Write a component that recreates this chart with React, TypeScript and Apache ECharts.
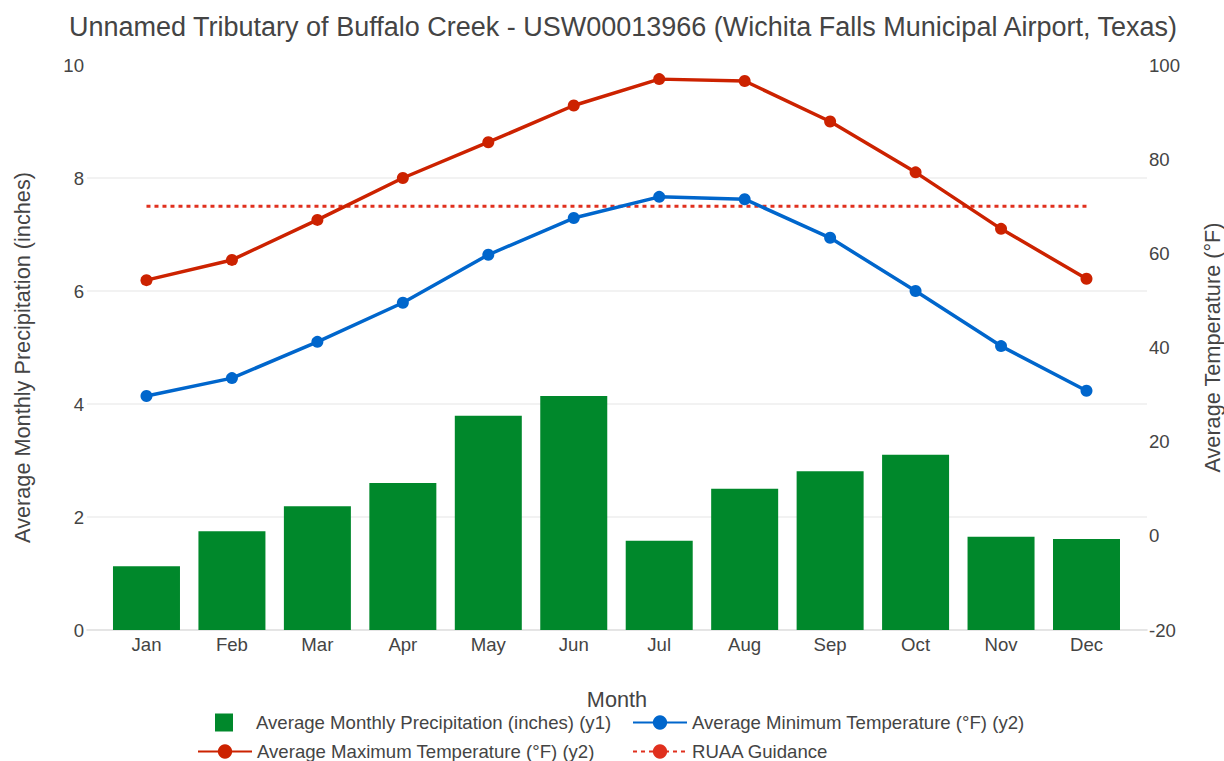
import React, { useEffect, useRef } from "react";
import * as echarts from "echarts";

const months = ["Jan", "Feb", "Mar", "Apr", "May", "Jun", "Jul", "Aug", "Sep", "Oct", "Nov", "Dec"];
const precipitation = [1.13, 1.75, 2.19, 2.6, 3.79, 4.14, 1.58, 2.5, 2.81, 3.1, 1.65, 1.61];
const maxTemp = [54.3, 58.6, 67.1, 76.0, 83.6, 91.4, 97.0, 96.6, 88.0, 77.2, 65.2, 54.6];
const minTemp = [29.7, 33.5, 41.2, 49.5, 59.7, 67.5, 72.0, 71.5, 63.3, 52.0, 40.3, 30.8];
const ruaa = [70, 70, 70, 70, 70, 70, 70, 70, 70, 70, 70, 70];
const leftTicks = [0, 2, 4, 6, 8, 10];
const rightTicks = [-20, 0, 20, 40, 60, 80, 100];

const FONT = "'Liberation Sans', Arial, sans-serif";
const TXT = "#444";
const GREEN = "#00882B";
const RED = "#CC2200";
const BLUE = "#0066CC";
const DOT = "#E0301E";

const NAMES = {
  precip: "Average Monthly Precipitation (inches) (y1)",
  min: "Average Minimum Temperature (°F) (y2)",
  max: "Average Maximum Temperature (°F) (y2)",
  ruaa: "RUAA Guidance",
};

export default function App() {
  const ref = useRef<HTMLDivElement>(null);
  useEffect(() => {
    if (!ref.current) return;
    const chart = echarts.init(ref.current, null, { renderer: "svg" });
    const idx = months.map((_, i) => i);
    const legendBase = {
      orient: "horizontal" as const,
      itemWidth: 54,
      itemHeight: 18,
      textStyle: { fontFamily: FONT, fontSize: 18.6, color: TXT },
      selectedMode: false as const,
    };
    chart.setOption({
      animation: false,
      backgroundColor: "#fff",
      title: {
        text: "Unnamed Tributary of Buffalo Creek - USW00013966 (Wichita Falls Municipal Airport, Texas)",
        left: 64,
        top: 8,
        textStyle: { fontFamily: FONT, fontSize: 27, fontWeight: "normal", color: TXT },
      },
      grid: { left: 87, right: 77, top: 65, bottom: 131, containLabel: false, outerBoundsMode: "none" },
      legend: [
        {
          ...legendBase,
          left: 210,
          top: 708,
          itemWidth: 18,
          icon: "rect",
          textStyle: { ...legendBase.textStyle, padding: [0, 0, 0, 18] },
          data: [NAMES.precip],
        },
        { ...legendBase, left: 627, top: 708, data: [NAMES.min] },
        { ...legendBase, left: 192, top: 737, data: [NAMES.max] },
        { ...legendBase, left: 627, top: 737, data: [NAMES.ruaa] },
      ],
      xAxis: {
        type: "value",
        min: -0.696,
        max: 11.708,
        name: "Month",
        nameLocation: "middle",
        nameGap: 58,
        nameTextStyle: { fontFamily: FONT, fontSize: 21.7, color: TXT },
        axisLine: { show: true, lineStyle: { color: "#ddd", width: 1.5 } },
        axisTick: { show: false },
        splitLine: { show: false },
        axisLabel: {
          customValues: idx,
          formatter: (v: number) => months[Math.round(v)] ?? "",
          fontFamily: FONT,
          fontSize: 18.6,
          color: TXT,
          margin: 5,
        },
      },
      yAxis: [
        {
          type: "value",
          min: leftTicks[0],
          max: leftTicks[leftTicks.length - 1],
          interval: 2,
          name: "Average Monthly Precipitation (inches)",
          nameLocation: "middle",
          nameGap: 54,
          nameTextStyle: { fontFamily: FONT, fontSize: 21.7, color: TXT, padding: [0, 20, 0, 0] },
          axisLine: { show: false },
          axisTick: { show: false },
          axisLabel: { fontFamily: FONT, fontSize: 18.6, color: TXT, margin: 3 },
          splitLine: {
            show: true,
            lineStyle: {
              color: leftTicks.map((t, i) => (i === 0 || i === leftTicks.length - 1 ? "rgba(0,0,0,0)" : "#eee")),
              width: 1.5,
            },
          },
        },
        {
          type: "value",
          min: rightTicks[0],
          max: rightTicks[rightTicks.length - 1],
          interval: 20,
          position: "right",
          name: "Average Temperature (°F)",
          nameLocation: "middle",
          nameGap: 54,
          nameRotate: 90,
          nameTextStyle: { fontFamily: FONT, fontSize: 21.7, color: TXT },
          axisLine: { show: false },
          axisTick: { show: false },
          axisLabel: { fontFamily: FONT, fontSize: 18.6, color: TXT, margin: 2 },
          splitLine: { show: false },
        },
      ],
      series: [
        {
          name: NAMES.precip,
          type: "bar",
          yAxisIndex: 0,
          barWidth: 67,
          itemStyle: { color: GREEN },
          data: precipitation.map((v, i) => [i, v]),
          z: 1,
        },
        {
          name: NAMES.min,
          type: "line",
          yAxisIndex: 1,
          symbol: "circle",
          symbolSize: 12,
          lineStyle: { color: BLUE, width: 3.5 },
          itemStyle: { color: BLUE },
          data: minTemp.map((v, i) => [i, v]),
          z: 3,
        },
        {
          name: NAMES.max,
          type: "line",
          yAxisIndex: 1,
          symbol: "circle",
          symbolSize: 12,
          lineStyle: { color: RED, width: 3.5 },
          itemStyle: { color: RED },
          data: maxTemp.map((v, i) => [i, v]),
          z: 3,
        },
        {
          name: NAMES.ruaa,
          type: "line",
          yAxisIndex: 1,
          symbol: "none",
          lineStyle: { color: DOT, width: 3, type: [4, 4] },
          itemStyle: { color: DOT },
          data: ruaa.map((v, i) => [i, v]),
          z: 2,
        },
      ],
    });
    return () => chart.dispose();
  }, []);
  return (
    <div
      ref={ref}
      style={{ position: "fixed", left: 0, top: 0, width: 1224, height: 761 }}
    />
  );
}
